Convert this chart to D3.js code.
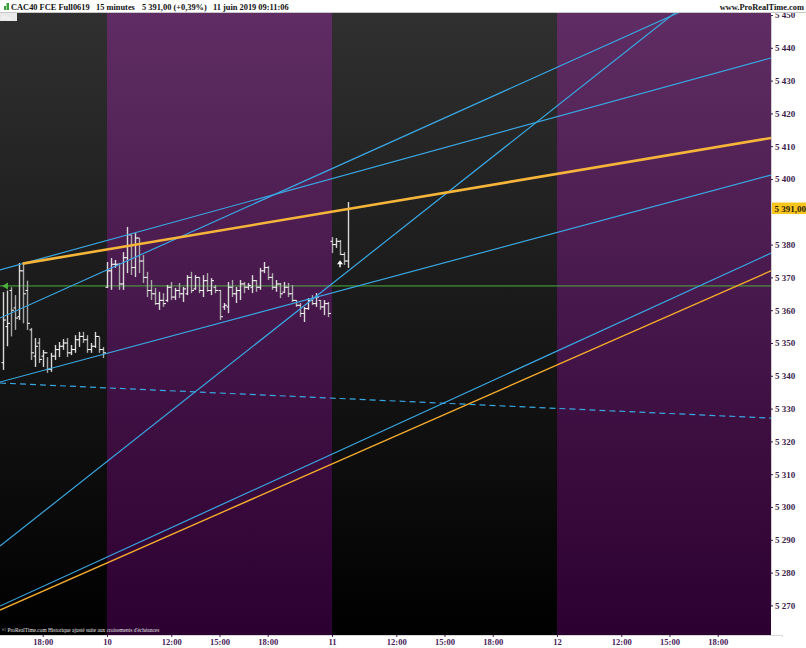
<!DOCTYPE html>
<html><head><meta charset="utf-8">
<script src="https://cdn.jsdelivr.net/npm/d3@7/dist/d3.min.js"></script>
<style>
html,body{margin:0;padding:0;background:#fff;}
svg{display:block;}
</style></head><body>
<svg id="c" width="806" height="648"></svg>
<script>
// ---------------- DATA ----------------
// trading sessions (08:00-22:00, 56 bars of 15 minutes each)
const sessionDays   = ["7", "10", "11", "12"];
const sessionLabels = [null, "10", "11", "12"];
const hourTicks     = ["12:00", "15:00", "18:00"];
// 5 390 is hidden behind the last-price label
const yTickValues   = [5270,5280,5290,5300,5310,5320,5330,5340,5350,5360,5370,5380,5400,5410,5420,5430,5440,5450];
const lastPrice     = 5391.00;
const refLevel      = 5367.4;

// Friday 7 June, bars from slot 30 (15:30)
const day7FirstSlot = 30;
const day7Open  = [5344,5355,5366,5360.7,5358,5372,5366,5354,5346,5350,5346,5347,5342,5346,5348,5349,5350,5347,5348,5351,5352,5351,5348,5349,5352,5348];
const day7High  = [5365.5,5366,5367,5364.6,5374.4,5374.4,5369,5354.6,5351.5,5351.5,5347.9,5345.7,5347,5349.4,5350.3,5351.2,5351.5,5349.4,5352.4,5353.4,5353.4,5352.4,5350,5353.4,5351.8,5348.8];
const day7Low   = [5341.8,5349,5352,5354,5357,5356,5354,5344.8,5342.7,5343.9,5342.7,5340.9,5341.2,5344.8,5345.7,5347.9,5345.7,5346.3,5347,5348.8,5350,5347,5347,5348.5,5347,5345.4];
const day7Close = [5357,5356,5360,5357.6,5372,5365,5356,5347,5349,5345,5347,5342,5346,5348,5349,5350,5347,5348,5351,5352,5351,5348,5349,5352,5348,5347];

// Monday 10 June, full session
const day10FirstSlot = 56;
const day10Open  = [5367,5372,5374,5374,5368,5376,5383,5373,5382,5375,5370,5366,5365,5362,5363,5363,5367,5364,5366,5365,5365,5370,5366.5,5370,5366,5369,5366,5367,5366,5361,5361,5367,5365,5366,5368,5367,5367,5369,5367,5372,5373,5370,5367,5368,5365.5,5367,5365,5363,5361.5,5359,5360.5,5363,5362,5363,5361,5362];
const day10High  = [5374.7,5375.9,5375.3,5374.4,5377.7,5385.4,5382.9,5383.5,5382.0,5376.8,5371.7,5369.2,5366.8,5365.6,5365.2,5367.7,5368.6,5366.8,5368.3,5367.1,5370.7,5371.7,5370.7,5370.1,5370.7,5371.3,5369.8,5367.7,5366.2,5362.2,5368.6,5369.2,5367.1,5369.2,5368.6,5368.3,5370.7,5369.2,5372.9,5374.7,5373.5,5371.3,5369.2,5368.3,5368.6,5368.3,5367.7,5363.1,5362.2,5361.0,5363.7,5364.6,5365.2,5363.1,5363.1,5362.5];
const day10Low   = [5366.8,5366.2,5372.9,5366.2,5366.2,5371.3,5370.7,5370.1,5371.3,5368.3,5364.0,5363.1,5361.6,5360.1,5361.0,5362.5,5363.1,5363.1,5363.7,5362.5,5364.6,5365.2,5366.2,5365.2,5364.0,5365.6,5364.6,5365.2,5357.0,5360.1,5359.1,5364.0,5362.2,5363.1,5365.2,5366.2,5365.2,5365.6,5366.2,5371.3,5369.2,5366.2,5365.6,5363.7,5365.2,5364.0,5362.5,5361.0,5357.9,5356.4,5360.1,5361.6,5361.0,5360.1,5358.5,5357.9];
const day10Close = [5372,5374,5374,5368,5376,5383,5373,5382,5375,5370,5366,5365,5362,5363,5362,5367,5364,5366,5365,5366.5,5370,5366,5370,5366,5369,5366,5369,5366,5358,5361.5,5367,5365,5366,5368,5367,5367.5,5369,5367,5372,5373,5370,5367,5368,5365,5367,5365,5363,5361.5,5359,5360.5,5363,5362,5364,5361,5362,5359];

// Tuesday 11 June, bars until 09:11
const day11FirstSlot = 112;
const day11Open  = [5381,5380,5381,5377,5375];
const day11High  = [5382.3,5382,5381.4,5377.7,5393];
const day11Low   = [5377.4,5379,5376.8,5373.8,5372.9];
const day11Close = [5380,5381,5377,5375,5391];

// Trend lines: [slot, price] anchor pairs
const blueLineA = [[29.37, 5372.3], [221.26, 5436.9]];
const blueLineB = [[29.37, 5357.6], [221.26, 5463.4]];
const blueLineC = [[29.37, 5288.1], [221.26, 5473.8]];
const blueLineD = [[29.37, 5338.1], [221.26, 5401.2]];
const blueLineE = [[29.37, 5269.8], [221.26, 5377.4]];
const blueDashed = [[29.37, 5337.8], [221.26, 5327.1]];
const orangeThick = [[35, 5374.2], [221.26, 5412.5]];
const orangeThin  = [[29.37, 5268.6], [221.26, 5372.0]];
const orderMarker = [114, 5374.3];

// ---------------- LAYOUT ----------------
const W = 806, H = 648;
const plot = {left: 0, right: 771, top: 13, bottom: 635};
const svg = d3.select("#c");

const x = d3.scaleLinear().domain([0, 224]).range([-118, 782]);
const y = d3.scaleLinear().domain([5270, 5450]).range([605.4, 15]);

const defs = svg.append("defs");
const gDark = defs.append("linearGradient").attr("id","gDark").attr("x1",0).attr("y1",0).attr("x2",0).attr("y2",1);
gDark.append("stop").attr("offset","0%").attr("stop-color","#303030");
gDark.append("stop").attr("offset","100%").attr("stop-color","#000000");
const gPurp = defs.append("linearGradient").attr("id","gPurp").attr("x1",0).attr("y1",0).attr("x2",0).attr("y2",1);
gPurp.append("stop").attr("offset","0%").attr("stop-color","#5f2d63");
gPurp.append("stop").attr("offset","100%").attr("stop-color","#2c0030");
defs.append("clipPath").attr("id","clip").append("rect")
  .attr("x",plot.left).attr("y",plot.top).attr("width",plot.right-plot.left).attr("height",plot.bottom-plot.top);

svg.append("rect").attr("width",W).attr("height",H).attr("fill","#fff");

const g = svg.append("g").attr("clip-path","url(#clip)");

// session backgrounds
g.selectAll("rect.sess").data(sessionDays).join("rect")
  .attr("x",(d,i)=>x(i*56)).attr("y",plot.top)
  .attr("width",(d,i)=>x((i+1)*56)-x(i*56)).attr("height",plot.bottom-plot.top)
  .attr("fill",(d,i)=> i%2===0 ? "url(#gDark)" : "url(#gPurp)");

// reference level
g.append("line").attr("x1",plot.left).attr("x2",plot.right)
  .attr("y1",y(refLevel)).attr("y2",y(refLevel))
  .attr("stroke","#4caf3c").attr("stroke-width",1);
g.append("path")
  .attr("d",`M${2},${y(refLevel)} L${8},${y(refLevel)-3.5} L${8},${y(refLevel)+3.5} Z`)
  .attr("fill","#4caf3c");

// bars
function buildBars(first, O, Hh, L, C){
  return O.map((o,i)=>({slot:first+i, o, h:Hh[i], l:L[i], c:C[i]}));
}
const bars = [].concat(
  buildBars(day7FirstSlot, day7Open, day7High, day7Low, day7Close),
  buildBars(day10FirstSlot, day10Open, day10High, day10Low, day10Close),
  buildBars(day11FirstSlot, day11Open, day11High, day11Low, day11Close)
);
const bg = g.append("g");
bars.forEach(b=>{
  const cx = Math.round(x(b.slot)) + 0.5;
  bg.append("line").attr("x1",cx).attr("x2",cx).attr("y1",y(b.h)).attr("y2",y(b.l))
    .attr("stroke", b.c >= b.o ? "#d8d8d8" : "#aaaaaa").attr("stroke-width",1.4);
  bg.append("line").attr("x1",cx-2).attr("x2",cx).attr("y1",y(b.o)).attr("y2",y(b.o))
    .attr("stroke","#ffffff").attr("stroke-width",1);
  bg.append("line").attr("x1",cx).attr("x2",cx+2.5).attr("y1",y(b.c)).attr("y2",y(b.c))
    .attr("stroke","#ffffff").attr("stroke-width",1);
});

// order marker
const mx = x(orderMarker[0]), my = y(orderMarker[1]);
g.append("path").attr("d",`M${mx-3},${my+1} L${mx},${my-3} L${mx+3},${my+1} Z M${mx-0.7},${my} h1.4 v4 h-1.4 Z`)
  .attr("fill","#fff");

// trend lines
const line = d3.line().x(d=>x(d[0])).y(d=>y(d[1]));
[blueLineA, blueLineB, blueLineC, blueLineD, blueLineE].forEach(l=>{
  g.append("path").attr("d",line(l)).attr("fill","none").attr("stroke","#3aa6e0").attr("stroke-width",1.2);
});
g.append("path").attr("d",line(blueDashed)).attr("fill","none").attr("stroke","#3aa6e0")
  .attr("stroke-width",1.2).attr("stroke-dasharray","6,4");
g.append("path").attr("d",line(orangeThin)).attr("fill","none").attr("stroke","#f2aa2e").attr("stroke-width",1.4);
g.append("path").attr("d",line(orangeThick)).attr("fill","none").attr("stroke","#f5b43a").attr("stroke-width",2.6);

// copyright text
g.append("text").attr("x",2).attr("y",632)
  .attr("font-family","Liberation Serif, serif").attr("font-size",5.4).attr("fill","#e6e6e6")
  .text("© ProRealTime.com Historique ajusté suite aux croisements d'échéances");

// small top-left box
svg.append("rect").attr("x",0).attr("y",13).attr("width",17).attr("height",8).attr("fill","#e9e9e9");
svg.append("text").attr("x",2).attr("y",19.5).attr("font-family","Liberation Sans, sans-serif")
  .attr("font-size",5).attr("fill","#f8f8f8").text("Prix");

// right axis
const fmt = v => String(v).replace(/\B(?=(\d{3})+(?!\d))/g, " ");
const yAxis = d3.axisRight(y).tickValues(yTickValues).tickFormat(fmt).tickSize(2).tickPadding(2);
const ya = svg.append("g").attr("transform",`translate(${plot.right},0)`).call(yAxis);
ya.select(".domain").attr("stroke","#cfcfcf");
ya.selectAll(".tick line").attr("stroke","#3a1d4a");
ya.selectAll(".tick text").attr("font-family","Liberation Serif, serif").attr("font-weight","bold")
  .attr("font-size",9).attr("fill","#3a1d4a");

// last price label
svg.append("rect").attr("x",plot.right+1).attr("y",y(lastPrice)-6).attr("width",35).attr("height",11.5).attr("fill","#f8c51c");
svg.append("text").attr("x",plot.right+3.5).attr("y",y(lastPrice)+3.2)
  .attr("font-family","Liberation Serif, serif").attr("font-weight","bold").attr("font-size",9)
  .attr("fill","#2a1a10").text(fmt(lastPrice.toFixed(0)) + ",00");

// bottom axis
const xTicks = [], xLabels = {};
sessionDays.forEach((d,i)=>{
  if (sessionLabels[i]) { xTicks.push(i*56); xLabels[i*56] = sessionLabels[i]; }
  hourTicks.forEach(h=>{
    const s = i*56 + (parseInt(h)-8)*4;
    if (x(s) > plot.left+5 && x(s) < plot.right) { xTicks.push(s); xLabels[s] = h; }
  });
});
const xAxis = d3.axisBottom(x).tickValues(xTicks).tickFormat(s=>xLabels[s]).tickSize(2).tickPadding(2);
const xa = svg.append("g").attr("transform",`translate(0,${plot.bottom})`).call(xAxis);
xa.select(".domain").attr("stroke","#d8d8d8");
xa.selectAll(".tick line").attr("stroke","#4a1b5a");
xa.selectAll(".tick text").attr("font-family","Liberation Serif, serif").attr("font-weight","bold")
  .attr("font-size",8.6).attr("fill","#4a1b5a");

// header
svg.append("line").attr("x1",0).attr("x2",W).attr("y1",12.5).attr("y2",12.5).attr("stroke","#c8c8c8");
const ic = svg.append("g");
ic.append("rect").attr("x",4).attr("y",6).attr("width",2).attr("height",4).attr("fill","#3aa03a");
ic.append("rect").attr("x",6.5).attr("y",3).attr("width",2.5).attr("height",7).attr("fill","#3aa03a");
const headerParts = [
  [11, "CAC40 FCE Full0619"],
  [96, "15 minutes"],
  [142, "5 391,00 (+0,39%)"],
  [213, "11 juin 2019 09:11:06"]
];
headerParts.forEach(p=>{
  svg.append("text").attr("x",p[0]).attr("y",9.5)
    .attr("font-family","Liberation Serif, serif").attr("font-weight","bold").attr("font-size",8.4)
    .attr("fill","#111").text(p[1]);
});
svg.append("text").attr("x",804).attr("y",9.5).attr("text-anchor","end")
  .attr("font-family","Liberation Serif, serif").attr("font-weight","bold").attr("font-size",8.4)
  .attr("fill","#111").text("www.ProRealTime.com");
</script>
</body></html>
